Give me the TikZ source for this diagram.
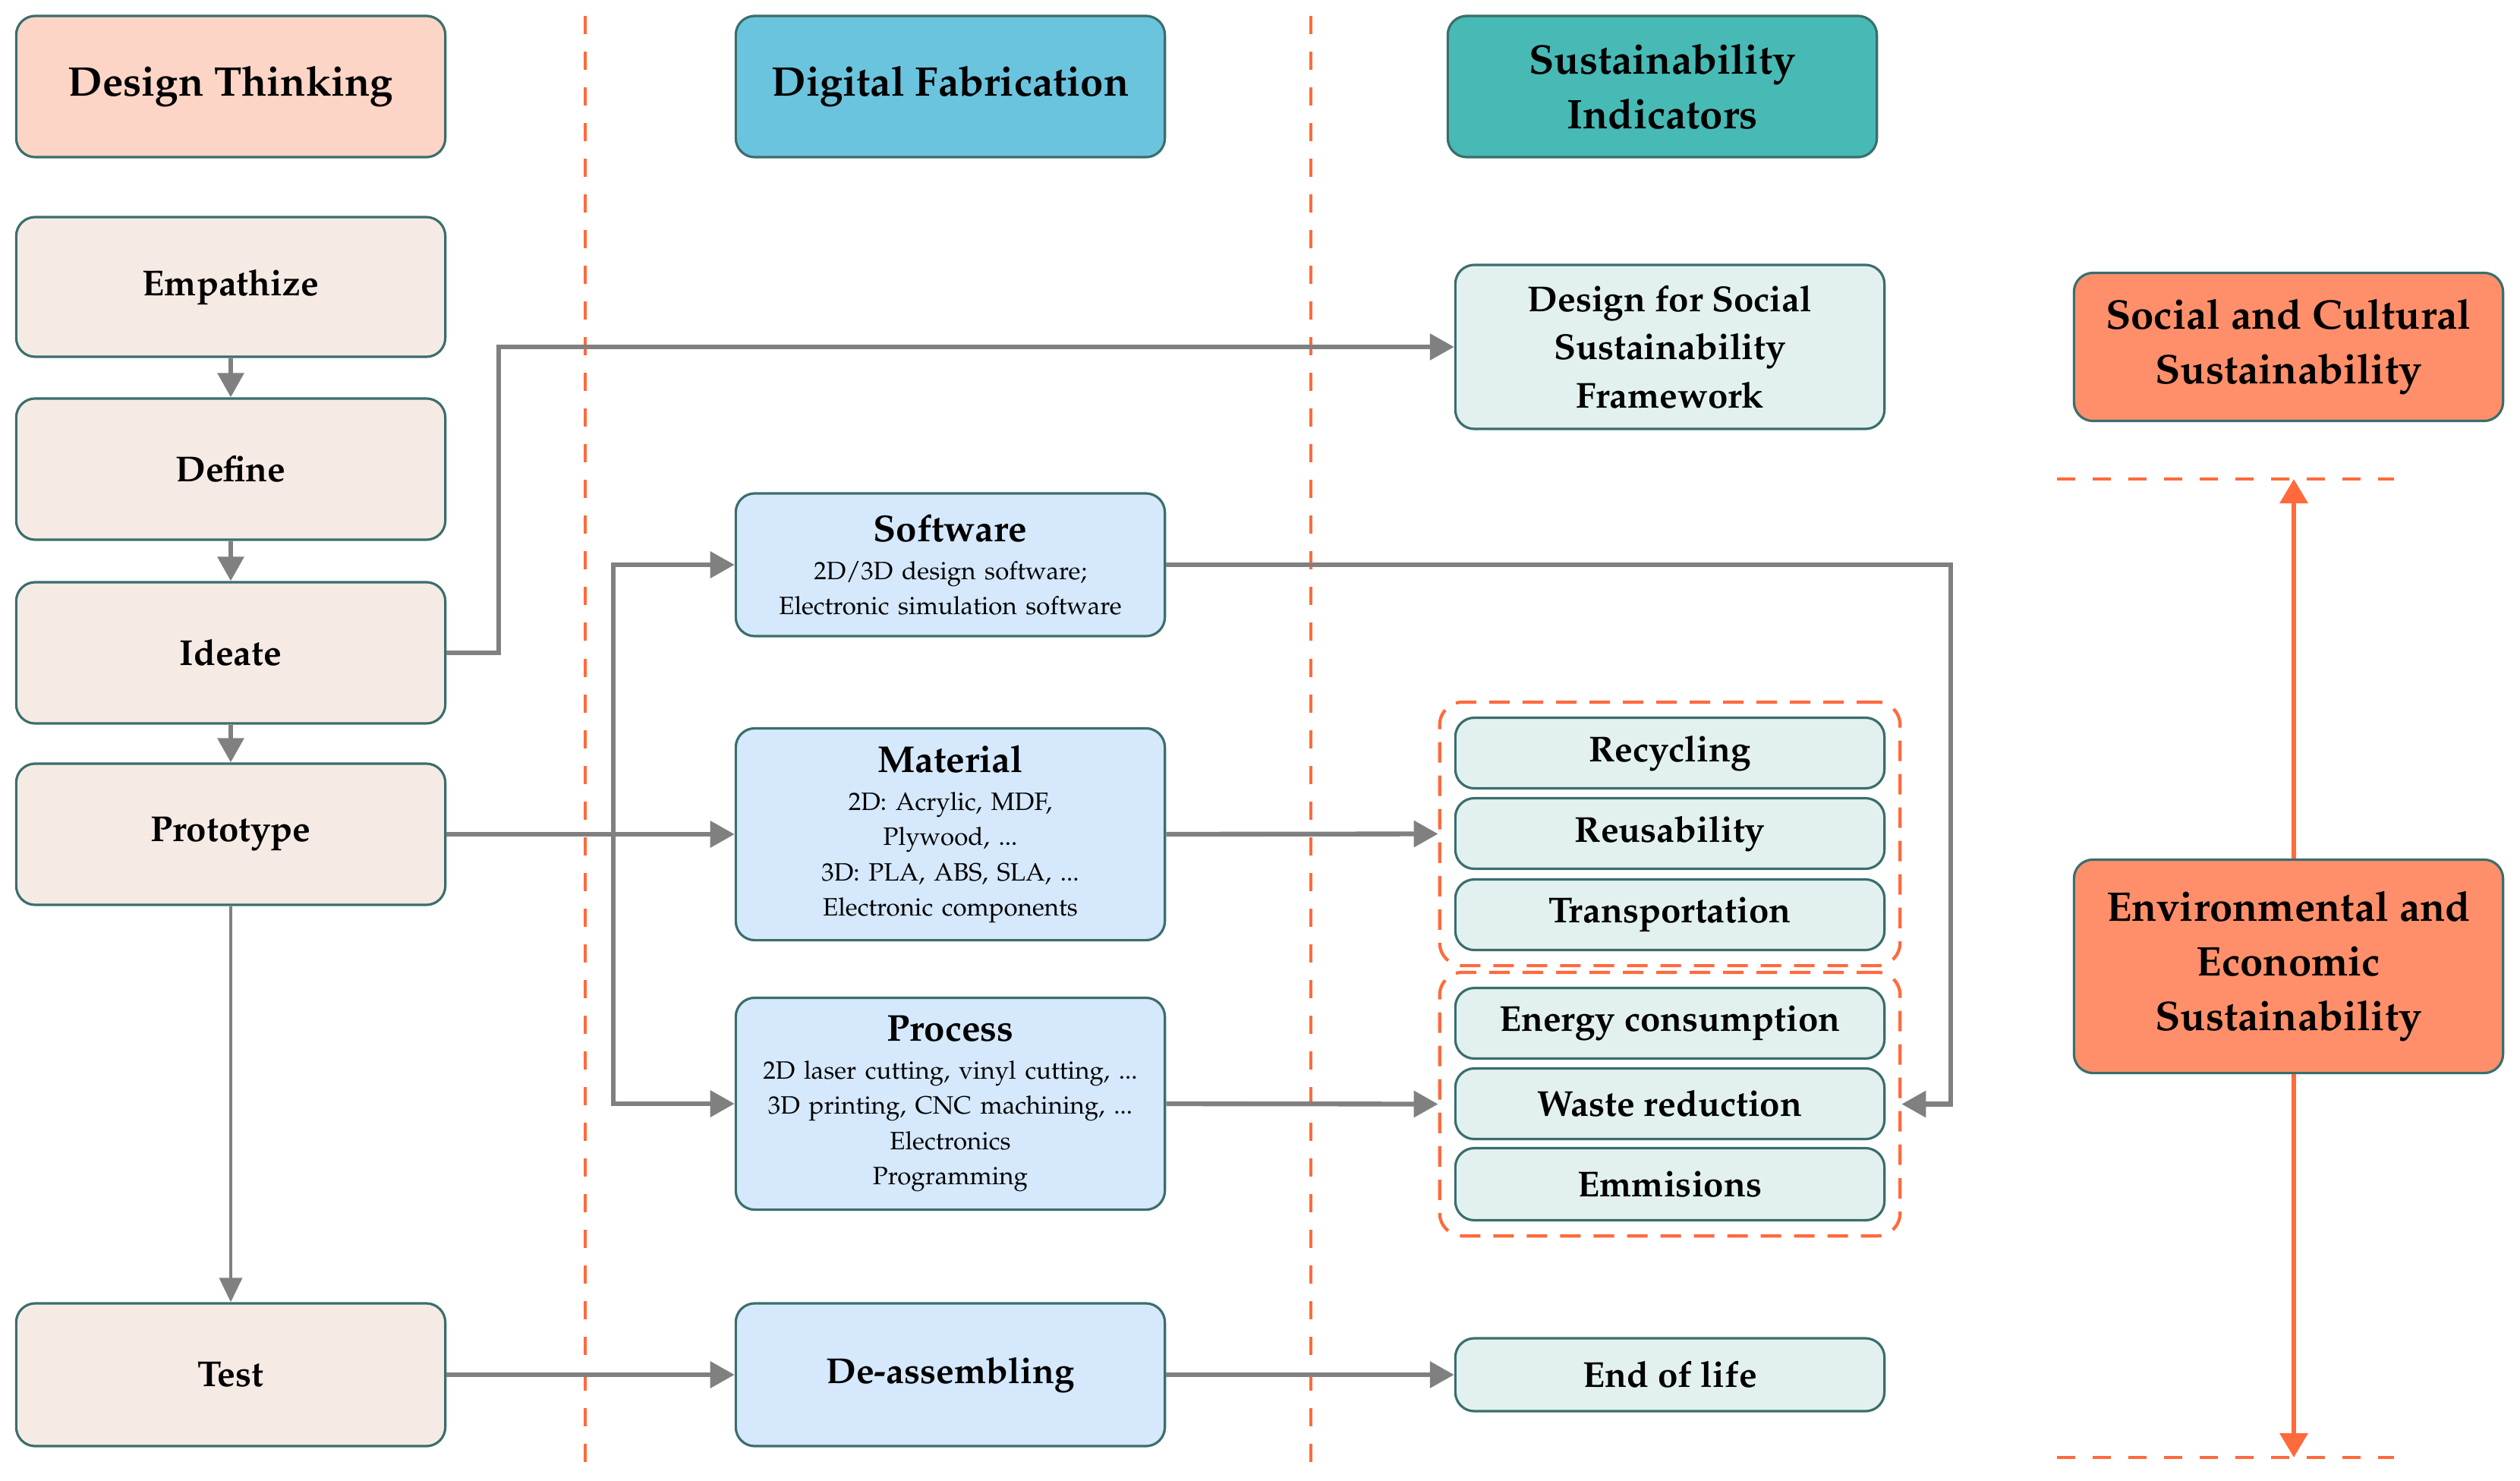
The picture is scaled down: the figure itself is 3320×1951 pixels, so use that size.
\documentclass[tikz,border=0pt]{standalone}
\usepackage[T1]{fontenc}
\usepackage{mathpazo}
\usetikzlibrary{arrows.meta,fit,calc}
\definecolor{bordc}{HTML}{3A6E6C}
\definecolor{dtc}{HTML}{FCD5C6}
\definecolor{stepc}{HTML}{F6EAE5}
\definecolor{dfc}{HTML}{6BC4DE}
\definecolor{sic}{HTML}{47BAB5}
\definecolor{fabc}{HTML}{D5E8FC}
\definecolor{indc}{HTML}{E2F1F0}
\definecolor{orc}{HTML}{FF8F6A}
\definecolor{grayc}{HTML}{808080}
\definecolor{dashc}{HTML}{FF6A3D}
\newcommand{\fhead}{\fontsize{15.5}{20.5}\selectfont\bfseries}
\newcommand{\fstep}{\fontsize{13.5}{17}\selectfont\bfseries}
\newcommand{\find}{\fontsize{13.5}{18}\selectfont\bfseries}
\newcommand{\ftitle}{\fontsize{14}{17}\selectfont\bfseries}
\newcommand{\fsmall}{\fontsize{9.4}{13.2}\selectfont}
\begin{document}
\begin{tikzpicture}[x=0.01cm,y=-0.01cm,
  box/.style={draw=bordc, line width=0.9pt, rounded corners=0.25cm, align=center, inner sep=2pt},
  colbox/.style={box, minimum width=5.65cm},
  arr/.style={draw=grayc, line width=1.8pt, -{Triangle[length=0.32cm,width=0.34cm]}},
  sep/.style={draw=dashc, line width=0.9pt, dash pattern=on 0.24cm off 0.23cm},
  grp/.style={draw=dashc, line width=1.2pt, dash pattern=on 0.27cm off 0.17cm, rounded corners=0.3cm, inner sep=0.19cm},
  oarr/.style={draw=dashc, line width=1.9pt, -{Triangle[length=0.32cm,width=0.36cm]}}
]
\useasboundingbox (0,0) rectangle (3320,1951);

% separators
\draw[sep] (771,21) -- (771,1926);
\draw[sep] (1727,21) -- (1727,1926);
\draw[sep] (2710,631) -- (3154,631);
\draw[sep] (2710,1920) -- (3154,1920);

% column 1
\node[colbox, fill=dtc, minimum height=1.86cm, font=\fhead] (dt) at (304,114) {Design Thinking};
\node[colbox, fill=stepc, minimum height=1.84cm, font=\fstep] (emp) at (304,378) {Empathize};
\node[colbox, fill=stepc, minimum height=1.86cm, font=\fstep] (def) at (304,618) {Define};
\node[colbox, fill=stepc, minimum height=1.86cm, font=\fstep] (ide) at (304,860) {Ideate};
\node[colbox, fill=stepc, minimum height=1.86cm, font=\fstep] (pro) at (304,1099) {Prototype};
\node[colbox, fill=stepc, minimum height=1.88cm, font=\fstep] (tst) at (304,1811) {Test};

% column 2
\node[colbox, fill=fabc, minimum height=1.88cm, text width=5.5cm, inner sep=1pt] (sw) at (1252,744)
  {{\ftitle Software\par}\vspace{1pt}{\fsmall 2D/3D design software;\\ Electronic simulation software\par}};
\node[colbox, fill=dfc, minimum height=1.86cm, font=\fhead] (df) at (1252,114) {Digital Fabrication};
\node[colbox, fill=fabc, minimum height=2.79cm, text width=5.5cm, inner sep=1pt] (mat) at (1252,1099)
  {{\ftitle Material\par}\vspace{1pt}{\fsmall 2D: Acrylic, MDF,\\ Plywood, ...\\ 3D: PLA, ABS, SLA, ...\\ Electronic components\par}};
\node[colbox, fill=fabc, minimum height=2.79cm, text width=5.5cm, inner sep=1pt] (prc) at (1252,1454)
  {{\ftitle Process\par}\vspace{1pt}{\fsmall 2D laser cutting, vinyl cutting, ...\\ 3D printing, CNC machining, ...\\ Electronics\\ Programming\par}};
\node[colbox, fill=fabc, minimum height=1.88cm, font=\fstep] (dea) at (1252,1811) {De-assembling};

% column 3
\node[colbox, fill=sic, minimum height=1.86cm, font=\fhead] (si) at (2190,114) {Sustainability\\ Indicators};
\node[colbox, fill=indc, minimum height=2.16cm, font=\find] (dssf) at (2200,457) {Design for Social\\ Sustainability\\ Framework};
\node[colbox, fill=indc, minimum height=0.93cm, font=\find] (rec) at (2200,992) {Recycling};
\node[colbox, fill=indc, minimum height=0.93cm, font=\find] (reu) at (2200,1098) {Reusability};
\node[colbox, fill=indc, minimum height=0.93cm, font=\find] (tra) at (2200,1205) {Transportation};
\node[colbox, fill=indc, minimum height=0.93cm, font=\find] (ene) at (2200,1348) {Energy consumption};
\node[colbox, fill=indc, minimum height=0.93cm, font=\find] (was) at (2200,1454) {Waste reduction};
\node[colbox, fill=indc, minimum height=0.95cm, font=\find] (emi) at (2200,1560) {Emmisions};
\node[colbox, fill=indc, minimum height=0.96cm, font=\find] (eol) at (2200,1811) {End of life};
\node[grp, fit=(rec)(tra)] (g1) {};
\node[grp, fit=(ene)(emi)] (g2) {};

% column 4
\node[colbox, fill=orc, minimum height=1.95cm, font=\fhead] (scs) at (3015,457) {Social and Cultural\\ Sustainability};
\node[colbox, fill=orc, minimum height=2.81cm, font=\fhead] (ees) at (3015,1273) {Environmental and\\ Economic\\ Sustainability};
\coordinate (top) at (3022,631);
\coordinate (bot) at (3022,1920);
\draw[oarr] (ees.north -| top) -- (top);
\draw[oarr] (ees.south -| bot) -- (bot);

% connectors
\draw[arr] (emp) -- (def);
\draw[arr] (def) -- (ide);
\draw[arr] (ide) -- (pro);
\draw[draw=grayc, line width=1.1pt, -{Triangle[length=0.32cm,width=0.3cm]}] (pro) -- (tst);
\coordinate (ideK) at (657,860);
\draw[arr] (ide.east) -- (ideK) |- (dssf.west);
\draw[arr] (pro.east) -- (mat.west);
\coordinate (br) at (808,1099);
\draw[arr] (br) |- (sw.west);
\draw[arr] (br) |- (prc.west);
\draw[arr] (mat.east) -- (g1.west);
\draw[arr] (prc.east) -- (g2.west);
\coordinate (swK) at (2570,744);
\draw[arr] (sw.east) -- (swK) |- (g2.east);
\draw[arr] (tst) -- (dea);
\draw[arr] (dea) -- (eol);
\end{tikzpicture}
\end{document}
